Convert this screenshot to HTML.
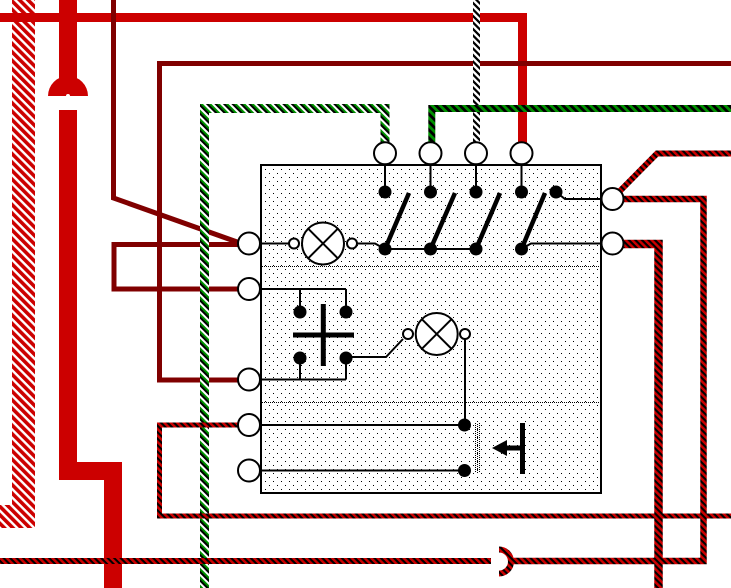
<!DOCTYPE html>
<html><head><meta charset="utf-8"><style>
html,body{margin:0;padding:0;background:#fff;}
svg{display:block;}
</style></head><body>
<svg width="731" height="588" viewBox="0 0 731 588" xmlns="http://www.w3.org/2000/svg">
<defs>
<pattern id="rw" width="6" height="6" patternUnits="userSpaceOnUse" patternTransform="rotate(-45)">
<rect width="6" height="6" fill="#fff"/><rect width="3.6" height="6" fill="#cc0000"/></pattern>
<pattern id="rb" width="4.6" height="4.6" patternUnits="userSpaceOnUse" patternTransform="rotate(-45)">
<rect width="4.6" height="4.6" fill="#000"/><rect width="2.5" height="4.6" fill="#cc0000"/></pattern>
<pattern id="gbw" width="6" height="6" patternUnits="userSpaceOnUse" patternTransform="rotate(-45)">
<rect width="6" height="6" fill="#fff"/><rect width="2" height="6" fill="#000"/><rect x="2" width="2" height="6" fill="#009000"/></pattern>
<pattern id="gb" width="5.6" height="5.6" patternUnits="userSpaceOnUse" patternTransform="rotate(-45)">
<rect width="5.6" height="5.6" fill="#000"/><rect width="2.8" height="5.6" fill="#009000"/></pattern>
<pattern id="bw" width="4.6" height="4.6" patternUnits="userSpaceOnUse" patternTransform="rotate(-45)">
<rect width="4.6" height="4.6" fill="#fff"/><rect width="2.3" height="4.6" fill="#000"/></pattern>
<pattern id="dots" width="8" height="8" patternUnits="userSpaceOnUse">
<rect width="8" height="8" fill="#fff"/><rect x="1" y="1" width="1" height="1" fill="#000"/><rect x="5" y="5" width="1" height="1" fill="#000"/></pattern>
</defs>

<!-- red/white striped -->
<path d="M23.5,0 V516.5 H0" fill="none" stroke="url(#rw)" stroke-width="23"/>

<!-- thick red -->
<path d="M68,0 V90" fill="none" stroke="#cc0000" stroke-width="18"/>
<path d="M48,96 A20,20 0 0 1 88,96 Z" fill="#cc0000"/>
<circle cx="68" cy="96" r="2" fill="#fff"/>
<path d="M68,110 V471 H113 V588" fill="none" stroke="#cc0000" stroke-width="18"/>

<!-- red top line -->
<path d="M0,17.5 H522.5 V143" fill="none" stroke="#cc0000" stroke-width="9"/>

<!-- checker lines -->
<path d="M113.5,0 V198 L240,243" fill="none" stroke="#800000" stroke-width="5"/>
<path d="M240,244.5 H114 V289 H240" fill="none" stroke="#800000" stroke-width="5"/>
<path d="M731,63.5 H159.5 V380 H240" fill="none" stroke="#800000" stroke-width="5"/>

<!-- black/white striped -->
<path d="M476.5,0 V142" fill="none" stroke="url(#bw)" stroke-width="7"/>

<!-- green lines -->
<path d="M204.5,588 V108.5 H385 V142" fill="none" stroke="url(#gbw)" stroke-width="9"/>
<path d="M431.8,142 V108.5 H731" fill="none" stroke="url(#gb)" stroke-width="7"/>

<!-- red/black lines -->
<path d="M612,199 L657,153.5 H731" fill="none" stroke="url(#rb)" stroke-width="6"/>
<path d="M612,199 H703.5 V561 H511" fill="none" stroke="url(#rb)" stroke-width="6.5"/>
<path d="M0,561 H491" fill="none" stroke="url(#rb)" stroke-width="6"/>
<path d="M499,549.5 A12,12 0 0 1 499,573.5" fill="none" stroke="url(#rb)" stroke-width="6"/>
<path d="M612,244 H658.5 V588" fill="none" stroke="url(#rb)" stroke-width="8.5"/>
<path d="M240,425 H159.5 V516 H731" fill="none" stroke="url(#rb)" stroke-width="5"/>

<!-- box -->
<rect x="261" y="165" width="340" height="328" fill="url(#dots)" stroke="#000" stroke-width="2"/>
<line x1="262" y1="266.5" x2="600" y2="266.5" stroke="#000" stroke-width="1" stroke-dasharray="1 1"/>
<line x1="262" y1="402.5" x2="600" y2="402.5" stroke="#000" stroke-width="1" stroke-dasharray="1 1"/>

<g fill="none" stroke="#000" stroke-width="2">
<path d="M385,164 V192 M430.5,164 V192 M476,164 V192 M521.5,164 V192"/>
<path d="M556,192 L565,199 H601"/>
<path d="M476,249 H385 L375,243.5 H357"/>
<path d="M260,243.5 H289"/>
<path d="M521.5,249 L531,243.5 H601"/>
<path d="M260,289 H346 M300,289 V312 M346,289 V312 M300,358 V379.5 M346,358 V379.5 M260,379.5 H346"/>
<path d="M346,357 H386 L403,339"/>
<path d="M465,339 V425"/>
<path d="M260,425 H464 M260,470.5 H464"/>
</g>

<!-- switch blades -->
<g stroke="#000" stroke-width="4.5" fill="none">
<line x1="385" y1="249" x2="409" y2="193"/>
<line x1="430.5" y1="249" x2="455" y2="193"/>
<line x1="476" y1="249" x2="500" y2="193"/>
<line x1="521.5" y1="249" x2="545" y2="193"/>
</g>

<!-- dots -->
<g fill="#000">
<circle cx="385" cy="192" r="6.5"/><circle cx="430.5" cy="192" r="6.5"/><circle cx="476" cy="192" r="6.5"/><circle cx="521.5" cy="192" r="6.5"/><circle cx="556" cy="192" r="6.5"/>
<circle cx="385" cy="249" r="6.5"/><circle cx="430.5" cy="249" r="6.5"/><circle cx="476" cy="249" r="6.5"/><circle cx="521.5" cy="249" r="6.5"/>
<circle cx="300" cy="312" r="6.5"/><circle cx="346" cy="312" r="6.5"/><circle cx="300" cy="358" r="6.5"/><circle cx="346" cy="358" r="6.5"/>
<circle cx="464.5" cy="425" r="6.5"/><circle cx="464.5" cy="470.5" r="6.5"/>
</g>

<!-- capacitor cross -->
<path d="M293,335 H354 M323.3,304 V366" stroke="#000" stroke-width="5" fill="none"/>

<!-- lamps -->
<g fill="#fff" stroke="#000" stroke-width="2">
<circle cx="294" cy="243.5" r="5"/><circle cx="352" cy="243.5" r="5"/>
<circle cx="323" cy="243.5" r="21"/>
<circle cx="408" cy="334" r="5"/><circle cx="465" cy="334" r="5"/>
<circle cx="436.7" cy="334" r="21"/>
</g>
<g stroke="#000" stroke-width="2">
<line x1="308.2" y1="228.7" x2="337.8" y2="258.3"/><line x1="337.8" y1="228.7" x2="308.2" y2="258.3"/>
<line x1="421.9" y1="319.2" x2="451.5" y2="348.8"/><line x1="451.5" y1="319.2" x2="421.9" y2="348.8"/>
</g>

<!-- dotted vertical -->
<g stroke="#000" stroke-width="1" stroke-dasharray="1 1">
<line x1="475.5" y1="423" x2="475.5" y2="473"/>
<line x1="477.5" y1="424" x2="477.5" y2="473"/>
<line x1="479.5" y1="423" x2="479.5" y2="473"/>
</g>

<!-- pushbutton -->
<path d="M522.5,423 V474 M505,448 H522" stroke="#000" stroke-width="5" fill="none"/>
<polygon points="492,448 507,440 507,456" fill="#000"/>

<!-- terminal circles -->
<g fill="#fff" stroke="#000" stroke-width="2">
<circle cx="385" cy="153.3" r="11"/><circle cx="430.5" cy="153.3" r="11"/><circle cx="476" cy="153.3" r="11"/><circle cx="521.5" cy="153.3" r="11"/>
<circle cx="612.5" cy="199" r="11"/><circle cx="612.5" cy="243.5" r="11"/>
<circle cx="249" cy="243.5" r="11"/><circle cx="249" cy="289" r="11"/><circle cx="249" cy="379.5" r="11"/><circle cx="249" cy="425" r="11"/><circle cx="249" cy="470.5" r="11"/>
</g>
</svg>
</body></html>
